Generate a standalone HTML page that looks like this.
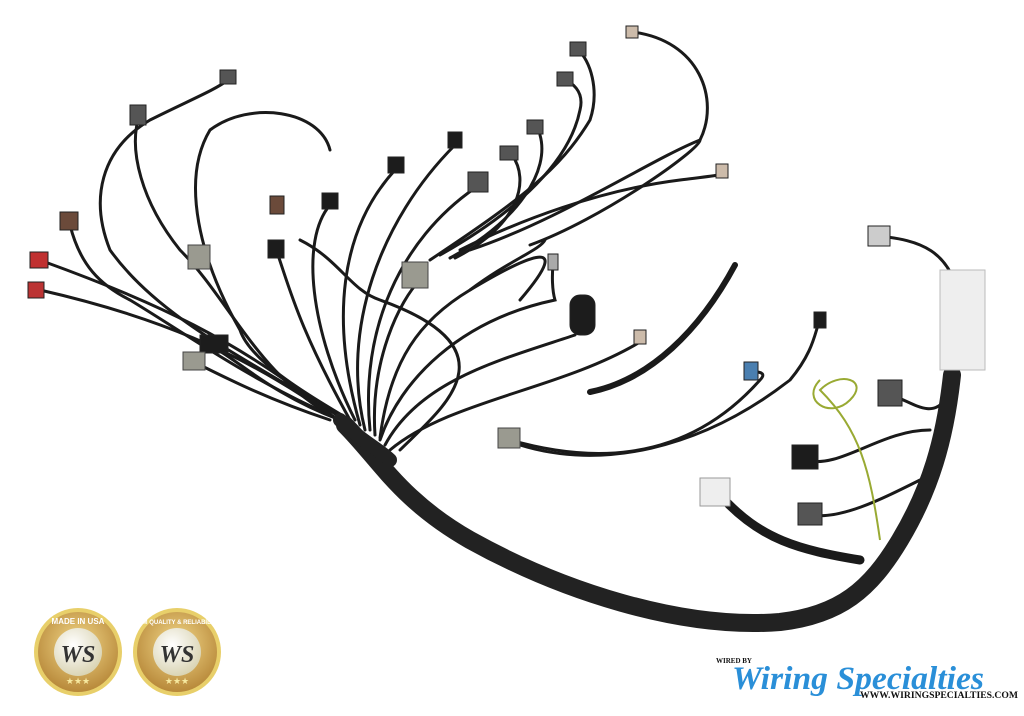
<!DOCTYPE html>
<html><head><meta charset="utf-8"><style>
html,body{margin:0;padding:0;background:#fff;width:1024px;height:716px;overflow:hidden}
svg{position:absolute;left:0;top:0}
.w{fill:none;stroke:#1a1a1a;stroke-width:3;stroke-linecap:round}
.b{fill:none;stroke:#222;stroke-linecap:round}
.c{fill:#555;stroke:#222;stroke-width:1}
.k{fill:#1c1c1c}
.g{fill:#9a9a90;stroke:#444;stroke-width:1}
</style></head><body>
<svg width="1024" height="716" viewBox="0 0 1024 716">
<defs>
<radialGradient id="gold" cx="50%" cy="40%" r="60%"><stop offset="0" stop-color="#f3d98a"/><stop offset="1" stop-color="#b8893a"/></radialGradient>
<radialGradient id="inner" cx="40%" cy="35%" r="70%"><stop offset="0" stop-color="#ffffff"/><stop offset="1" stop-color="#d8d2b0"/></radialGradient>
</defs>
<g class="w">
<path d="M350,420 C300,390 250,360 240,330 C200,260 180,180 210,130 C250,100 320,110 330,150"/>
<path d="M340,420 C260,380 230,300 180,250 C140,200 130,150 138,120"/>
<path d="M345,420 C250,360 160,320 110,250 C90,200 100,150 150,120 C190,100 215,90 228,80"/>
<path d="M330,415 C250,380 180,330 130,300 C100,285 80,265 70,225"/>
<path d="M335,418 C240,340 150,300 45,262"/>
<path d="M335,418 C240,350 150,315 40,290"/>
<path d="M340,420 C260,390 230,350 205,345"/>
<path d="M330,420 C270,400 230,380 200,365"/>
<path d="M350,420 C300,330 290,290 278,255"/>
<path d="M355,420 C310,330 300,240 330,205"/>
<path d="M360,425 C330,320 340,230 395,170"/>
<path d="M365,430 C340,330 380,220 455,145"/>
<path d="M370,430 C360,330 400,240 475,188"/>
<path d="M375,435 C370,360 400,300 420,280"/>
<path d="M380,438 C390,360 420,320 470,290 C510,260 540,250 545,240"/>
<path d="M380,440 C400,380 460,320 555,300 C552,290 552,275 553,265"/>
<path d="M385,445 C420,380 500,360 575,335"/>
<path d="M390,450 C450,400 560,390 640,342"/>
<path d="M400,450 C440,410 520,350 380,300 C350,290 340,260 300,240"/>
<path d="M510,440 C580,460 680,470 760,380 C770,370 750,372 752,372"/>
<path d="M520,445 C600,470 700,450 790,380 C815,350 815,330 820,320"/>
<path d="M460,250 C520,220 600,190 680,180 C720,175 724,175 723,172"/>
<path d="M430,260 C520,200 560,170 590,120 C600,90 590,60 578,50"/>
<path d="M440,255 C520,210 570,160 580,110 C585,90 570,82 565,80"/>
<path d="M450,258 C520,220 550,170 540,135"/>
<path d="M455,258 C520,225 530,180 512,155"/>
<path d="M470,250 C560,220 650,160 700,140 C720,100 700,40 632,32"/>
<path d="M530,245 C600,220 700,150 700,140"/>
<path d="M470,290 C520,260 580,230 520,300"/>
<path d="M590,392 C650,380 700,330 735,265" stroke-width="6"/>
<path d="M945,400 C930,420 910,400 890,395"/>
<path d="M930,430 C880,430 840,470 805,460"/>
<path d="M920,480 C880,500 840,520 810,515"/>
<path d="M960,300 C950,250 920,240 878,236"/>
<path d="M860,560 C800,550 760,540 720,495" stroke-width="9"/>
</g>
<path d="M820,380 C800,400 830,420 850,400 C870,380 840,370 820,390 C860,430 870,470 880,540" fill="none" stroke="#9a3" stroke-width="2"/>
<path class="b" d="M345,425 C380,460 400,500 470,540 C560,590 680,630 780,622 C840,615 870,590 900,540 C930,490 945,440 952,375" stroke-width="18"/>
<path class="b" d="M340,420 C360,440 380,450 390,460" stroke-width="14"/>
<path d="M940,270 L985,270 L985,370 L940,370 Z" fill="#eee" stroke="#bbb"/>
<g class="c">
<rect x="220" y="70" width="16" height="14"/><rect x="130" y="105" width="16" height="20"/>
<rect x="60" y="212" width="18" height="18" fill="#6b4a3a"/><rect x="30" y="252" width="18" height="16" fill="#c03030"/>
<rect x="28" y="282" width="16" height="16" fill="#b33"/><rect x="268" y="240" width="16" height="18" class="k"/>
<rect x="322" y="193" width="16" height="16" class="k"/><rect x="388" y="157" width="16" height="16" class="k"/>
<rect x="448" y="132" width="14" height="16" class="k"/><rect x="468" y="172" width="20" height="20"/>
<rect x="270" y="196" width="14" height="18" fill="#6b4a3a"/><rect x="188" y="245" width="22" height="24" class="g"/>
<rect x="402" y="262" width="26" height="26" class="g"/><rect x="200" y="335" width="28" height="18" class="k"/>
<rect x="183" y="352" width="22" height="18" class="g"/><rect x="570" y="42" width="16" height="14"/>
<rect x="557" y="72" width="16" height="14"/><rect x="527" y="120" width="16" height="14"/>
<rect x="500" y="146" width="18" height="14"/><rect x="626" y="26" width="12" height="12" fill="#cba"/>
<rect x="716" y="164" width="12" height="14" fill="#cba"/><rect x="868" y="226" width="22" height="20" fill="#ccc"/>
<rect x="814" y="312" width="12" height="16" class="k"/><rect x="744" y="362" width="14" height="18" fill="#4a7fb0"/>
<rect x="634" y="330" width="12" height="14" fill="#cba"/><rect x="498" y="428" width="22" height="20" class="g"/>
<rect x="570" y="295" width="25" height="40" rx="10" class="k"/><rect x="548" y="254" width="10" height="16" fill="#aaa"/>
<rect x="878" y="380" width="24" height="26"/><rect x="792" y="445" width="26" height="24" class="k"/>
<rect x="798" y="503" width="24" height="22"/><rect x="700" y="478" width="30" height="28" fill="#eee" stroke="#999"/>
</g>
<g>
<circle cx="78" cy="652" r="44" fill="#e8cf6a"/><circle cx="78" cy="652" r="40" fill="url(#gold)"/>
<circle cx="78" cy="652" r="24" fill="url(#inner)"/>
<text x="78" y="662" text-anchor="middle" font-family="Liberation Serif,serif" font-style="italic" font-weight="bold" font-size="24" fill="#333">WS</text>
<text x="78" y="624" text-anchor="middle" font-family="Liberation Sans,sans-serif" font-size="8" font-weight="bold" fill="#fff">MADE IN USA</text>
<text x="78" y="684" text-anchor="middle" font-size="9" fill="#f6e9a0">★★★</text>
<circle cx="177" cy="652" r="44" fill="#e8cf6a"/><circle cx="177" cy="652" r="40" fill="url(#gold)"/>
<circle cx="177" cy="652" r="24" fill="url(#inner)"/>
<text x="177" y="662" text-anchor="middle" font-family="Liberation Serif,serif" font-style="italic" font-weight="bold" font-size="24" fill="#333">WS</text>
<text x="177" y="624" text-anchor="middle" font-family="Liberation Sans,sans-serif" font-size="6" font-weight="bold" fill="#fff">OEM QUALITY &amp; RELIABILITY</text>
<text x="177" y="684" text-anchor="middle" font-size="9" fill="#f6e9a0">★★★</text>
</g>
<text x="716" y="663" font-family="Liberation Serif,serif" font-weight="bold" font-size="7" fill="#111">WIRED BY</text>
<text x="732" y="689" font-family="Liberation Serif,serif" font-style="italic" font-weight="bold" font-size="33" fill="#2a8fd8" textLength="252" lengthAdjust="spacingAndGlyphs">Wiring Specialties</text>
<text x="860" y="698" font-family="Liberation Serif,serif" font-weight="bold" font-size="9" fill="#111" textLength="158" lengthAdjust="spacingAndGlyphs">WWW.WIRINGSPECIALTIES.COM</text>
</svg>
</body></html>
